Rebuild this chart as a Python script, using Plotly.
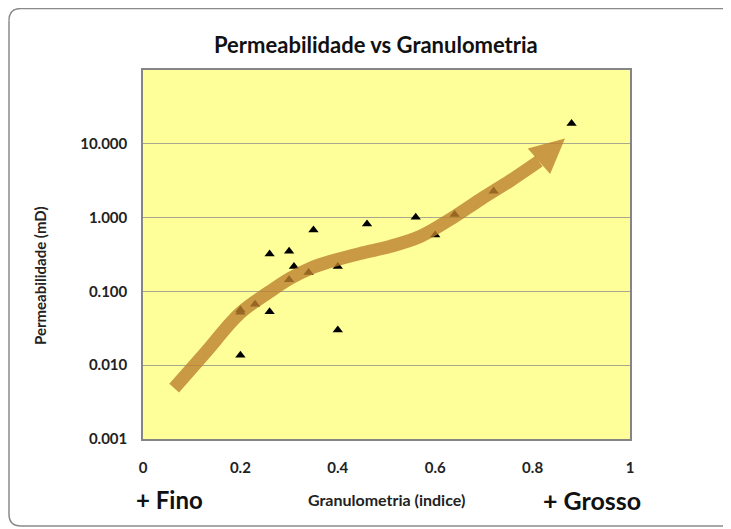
import plotly.graph_objects as go

# ---- data ----
granulometria = [0.20, 0.20, 0.20, 0.23, 0.26, 0.26, 0.30, 0.30, 0.31, 0.34,
                 0.35, 0.40, 0.40, 0.46, 0.56, 0.60, 0.64, 0.72, 0.88]
permeabilidade = [0.052, 0.056, 0.0136, 0.067, 0.32, 0.053, 0.35, 0.144, 0.218, 0.18,
                  0.68, 0.218, 0.030, 0.82, 1.01, 0.58, 1.10, 2.27, 18.8]

x_ticks = [0, 0.2, 0.4, 0.6, 0.8, 1]
x_tick_labels = ["0", "0.2", "0.4", "0.6", "0.8", "1"]
y_ticks = [0.001, 0.01, 0.1, 1, 10]
y_tick_labels = ["0.001", "0.010", "0.100", "1.000", "10.000"]

# trend arrow (decorative), in data coordinates
arrow_x = [0.064, 0.127, 0.199, 0.261, 0.302, 0.343, 0.384, 0.446, 0.507,
           0.569, 0.630, 0.692, 0.754, 0.813]
arrow_y = [0.00489, 0.0145, 0.0505, 0.100, 0.150, 0.205, 0.254, 0.327, 0.406,
           0.554, 0.940, 1.75, 3.16, 5.80]
head_x = [0.790, 0.8665, 0.836, 0.790]
head_y = [8.63, 11.8, 3.89, 8.63]

FONT = "Lato"
ARROW_COLOR = "rgba(188,128,45,0.80)"

fig = go.Figure()
fig.add_trace(go.Scatter(
    x=granulometria, y=permeabilidade, mode="markers",
    marker=dict(symbol="triangle-up", size=9, color="black"),
    hoverinfo="x+y", showlegend=False))
fig.add_trace(go.Scatter(
    x=arrow_x, y=arrow_y, mode="lines",
    line=dict(color=ARROW_COLOR, width=13, shape="spline", smoothing=1.0),
    hoverinfo="skip", showlegend=False))
fig.add_trace(go.Scatter(
    x=head_x, y=head_y, mode="lines", fill="toself",
    fillcolor=ARROW_COLOR, line=dict(width=0, color=ARROW_COLOR),
    hoverinfo="skip", showlegend=False))

OFF = 8  # default page body margin
W, H = 731 - OFF, 529 - OFF
L, T = 143 - OFF, 70 - OFF
R = W - (630 - OFF)
B = H - (439 - OFF)
PW, PH = W - L - R, H - T - B


def px(x):
    return (x - OFF - L) / PW


def py(y):
    return (H + OFF - B - y) / PH


annotations = [
    dict(text="<b>Permeabilidade vs Granulometria</b>", x=px(376), y=py(45),
         font=dict(size=22, family=FONT, color="#111")),
    dict(text="<b>Permeabilidade (mD)</b>", x=px(40), y=py(276), textangle=-90,
         font=dict(size=15, family=FONT, color="#222")),
    dict(text="<b>Granulometria (indice)</b>", x=px(386), y=py(500),
         font=dict(size=16, family=FONT, color="#222")),
    dict(text="<b>+ Fino</b>", x=px(169), y=py(500),
         font=dict(size=24, family=FONT, color="#111")),
    dict(text="<b>+ Grosso</b>", x=px(592), y=py(500),
         font=dict(size=25, family=FONT, color="#111")),
]
for a in annotations:
    a.update(xref="paper", yref="paper", showarrow=False,
             xanchor="center", yanchor="middle")

# outer frame (left, top, bottom edges with a rounded left side)
FRAME = dict(color="#8a8a8a", width=1.5)
fl, fr, ft, fb, rad = 9, 731, 8.5, 526, 12
frame_shapes = [
    dict(type="line", x0=px(fl + rad), x1=px(fr), y0=py(ft), y1=py(ft)),
    dict(type="line", x0=px(fl + rad), x1=px(fr), y0=py(fb), y1=py(fb)),
    dict(type="line", x0=px(fl), x1=px(fl), y0=py(ft + rad), y1=py(fb - rad)),
    dict(type="path", path=f"M {px(fl)},{py(ft + rad)} Q {px(fl)},{py(ft)} {px(fl + rad)},{py(ft)}"),
    dict(type="path", path=f"M {px(fl)},{py(fb - rad)} Q {px(fl)},{py(fb)} {px(fl + rad)},{py(fb)}"),
]
for s in frame_shapes:
    s.update(xref="paper", yref="paper", line=FRAME)

fig.update_layout(
    width=W, height=H,
    margin=dict(l=L, r=R, t=T, b=B),
    paper_bgcolor="white", plot_bgcolor="#FFFF99",
    annotations=annotations,
    shapes=frame_shapes,
    xaxis=dict(range=[0, 1], tickvals=x_ticks, ticktext=x_tick_labels,
               showgrid=False, zeroline=False, showline=True, mirror=True,
               linecolor="#858585", linewidth=1.5,
               ticks="outside", ticklen=14, tickcolor="rgba(0,0,0,0)",
               tickfont=dict(size=15, family=FONT, color="#222", weight="bold")),
    yaxis=dict(type="log", range=[-3, 2], tickvals=y_ticks, ticktext=y_tick_labels,
               showgrid=True, gridcolor="#A8A890", gridwidth=1.3,
               zeroline=False, showline=True, mirror=True,
               linecolor="#858585", linewidth=1.5,
               ticks="outside", ticklen=11, tickcolor="rgba(0,0,0,0)",
               tickfont=dict(size=15, family=FONT, color="#222", weight="bold")),
    font=dict(family=FONT),
)

fig.write_html("out.html")
